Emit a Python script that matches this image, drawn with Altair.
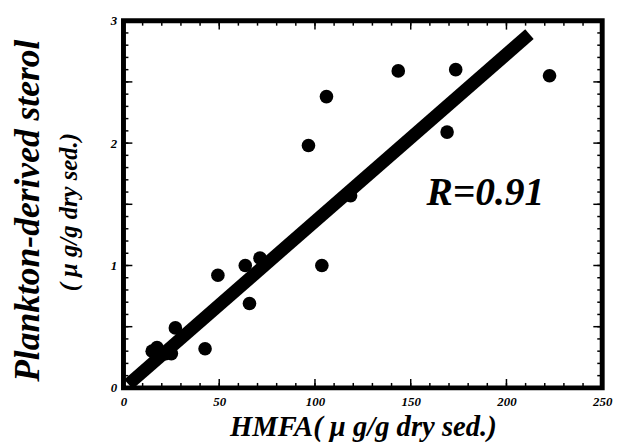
import altair as alt
import pandas as pd

# data
hmfa = [143.5, 173.5, 222.5, 106, 96.6, 169, 118.6, 103.6, 71.3, 63.6, 49.3, 65.8, 27.1, 42.6, 15, 17.5, 22, 25]
sterol = [2.59, 2.60, 2.55, 2.38, 1.98, 2.09, 1.57, 1.00, 1.06, 1.00, 0.92, 0.69, 0.49, 0.32, 0.30, 0.33, 0.28, 0.28]
fit_x = [2.6, 212]
fit_y = [0.03, 2.89]
x_major = [0, 50, 100, 150, 200, 250]
x_minor = list(range(0, 251, 10))
y_major = [0, 0.5, 1, 1.5, 2, 2.5, 3]
y_minor = [round(i * 0.1, 1) for i in range(31)]
annot_x = [189]
annot_y = [1.59]
annot_text = ["R=0.91"]

W, H = 485, 372
FONT = "Liberation Serif"

xs = alt.Scale(domain=[0, 250], nice=False, zero=False)
ys = alt.Scale(domain=[0, 3], nice=False, zero=False)

xenc = alt.X("x:Q", scale=xs, axis=alt.Axis(
    values=x_major, ticks=False, domain=False, grid=False, labelPadding=8,
    labelFont=FONT, labelFontSize=13, labelFontWeight="bold", labelFontStyle="italic",
    labelColor="black", labelFlush=False,
    title="HMFA( μ g/g dry sed.)", titleFont=FONT, titleFontSize=29, titleFontWeight="bold",
    titleFontStyle="italic", titleColor="black", titleY=48, titleBaseline="alphabetic"))
yenc = alt.Y("y:Q", scale=ys, axis=alt.Axis(
    values=[0, 1, 2, 3], ticks=False, domain=False, grid=False, labelPadding=7,
    labelFont=FONT, labelFontSize=13, labelFontWeight="bold", labelFontStyle="italic",
    labelColor="black", labelFlush=False,
    title="Plankton-derived sterol", titleFont=FONT, titleFontSize=36, titleFontWeight="bold",
    titleFontStyle="italic", titleColor="black", titleX=-97, titleY=H / 2 + 6,
    titleAngle=270, titleBaseline="middle", titleAlign="center"))

pts = pd.DataFrame({"x": hmfa, "y": sterol})
fit = pd.DataFrame({"x": fit_x, "y": fit_y})

points = alt.Chart(pts).mark_circle(size=190, color="black", opacity=1).encode(x=xenc, y=yenc)
line = alt.Chart(fit).mark_line(color="black", strokeWidth=13, strokeCap="butt", clip=True).encode(x=xenc, y=yenc)

def yticks(vals, length):
    d = pd.DataFrame({"y": vals})
    left = alt.Chart(d).mark_rule(color="black", strokeWidth=1.5).encode(
        y=yenc, x=alt.value(0), x2=alt.value(length))
    right = alt.Chart(d).mark_rule(color="black", strokeWidth=1.5).encode(
        y=yenc, x=alt.value(W - length), x2=alt.value(W))
    return [left, right]

def xticks(vals, length):
    d = pd.DataFrame({"x": vals})
    bottom = alt.Chart(d).mark_rule(color="black", strokeWidth=1.5).encode(
        x=xenc, y=alt.value(H - length), y2=alt.value(H))
    top = alt.Chart(d).mark_rule(color="black", strokeWidth=1.5).encode(
        x=xenc, y=alt.value(0), y2=alt.value(length))
    return [bottom, top]

ann = alt.Chart(pd.DataFrame({"x": annot_x, "y": annot_y, "t": annot_text})).mark_text(
    font=FONT, fontSize=40, fontWeight="bold", fontStyle="italic", color="black",
    align="center", baseline="middle").encode(x=xenc, y=yenc, text="t:N")

sub = alt.Chart(pd.DataFrame({"t": ["( μ g/g dry sed.)"]})).mark_text(
    font=FONT, fontSize=25, fontWeight="bold", fontStyle="italic", color="black",
    angle=270, align="center", baseline="middle").encode(
    text="t:N", x=alt.value(-55), y=alt.value(H / 2 + 8))

layers = [line, points, ann, sub] + yticks(y_minor, 5) + yticks(y_major, 9) + xticks(x_minor, 5) + xticks(x_major, 9)

chart = alt.layer(*layers).properties(
    width=W, height=H,
    autosize=alt.AutoSizeParams(type="none"),
    padding={"left": 117, "top": 10, "right": 15, "bottom": 56},
    background="white",
).configure_view(stroke="black", strokeWidth=5)

chart.save("out.html", embed_options={"renderer": "svg", "actions": False})
